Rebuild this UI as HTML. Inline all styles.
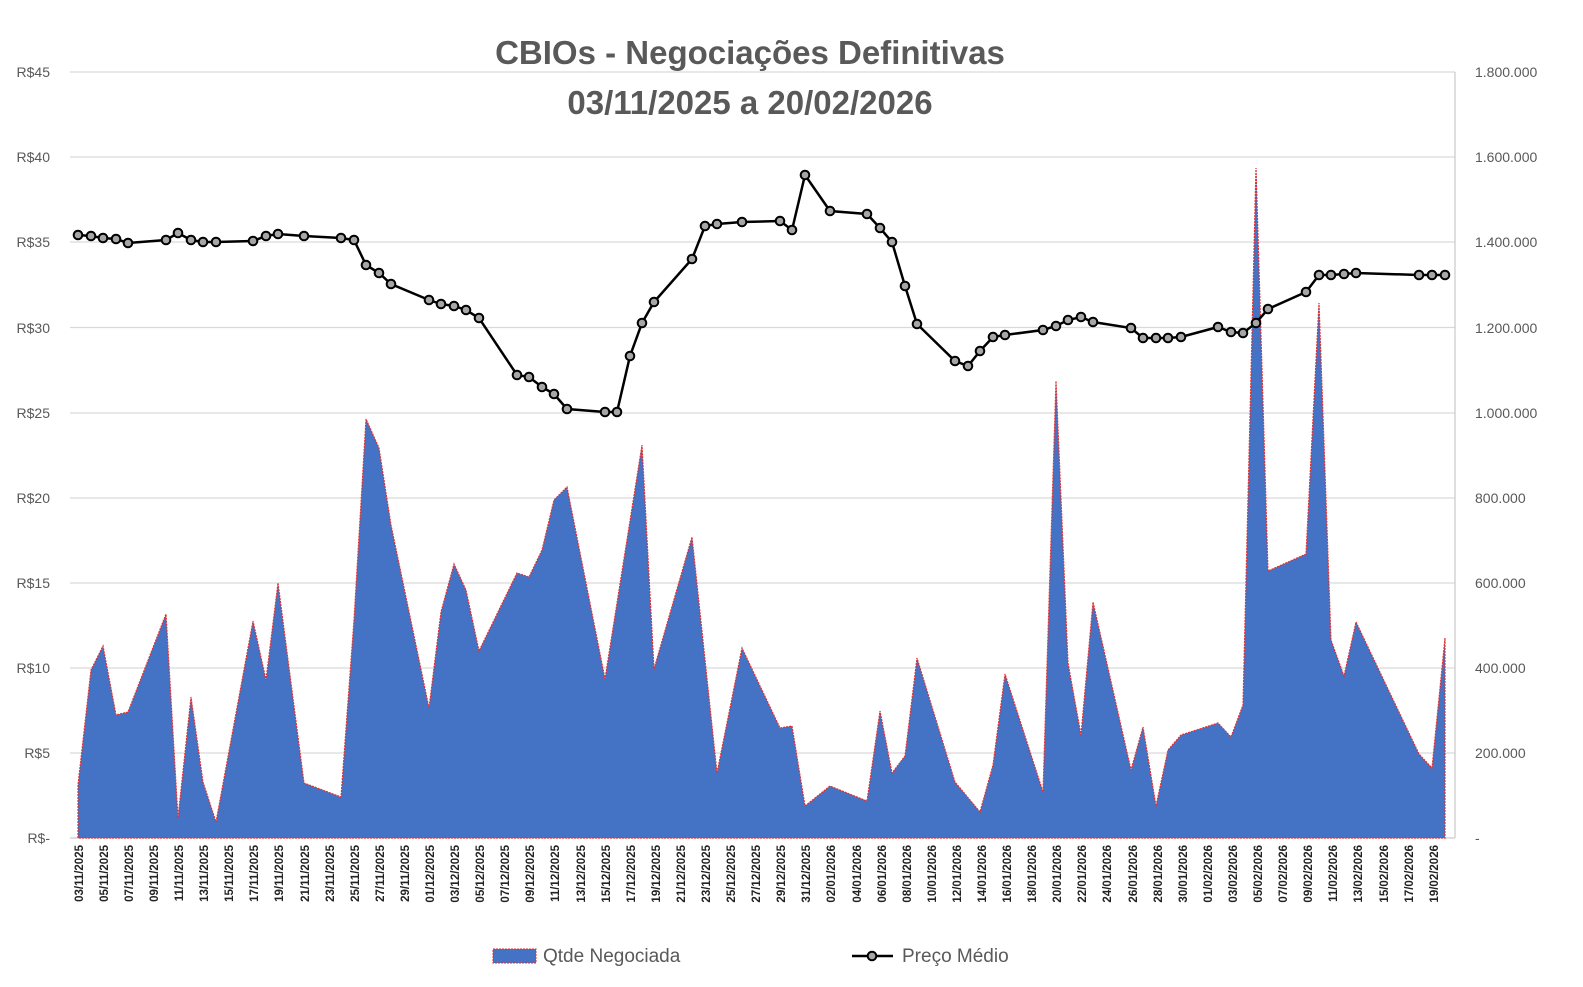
<!DOCTYPE html>
<html><head><meta charset="utf-8"><style>
body{margin:0;background:#fff}
svg{display:block;font-family:"Liberation Sans",Arial,sans-serif}
.xl{font-size:11.5px;font-weight:bold;fill:#222}
.ax{font-size:14px;fill:#595959}
</style></head><body>
<svg width="1583" height="987" viewBox="0 0 1583 987" xmlns="http://www.w3.org/2000/svg">
<rect width="1583" height="987" fill="#fff"/>
<g stroke="#d9d9d9" stroke-width="1.3">
<line x1="70" y1="72" x2="1455" y2="72"/><line x1="70" y1="157" x2="1455" y2="157"/>
<line x1="70" y1="242" x2="1455" y2="242"/><line x1="70" y1="327.5" x2="1455" y2="327.5"/>
<line x1="70" y1="413" x2="1455" y2="413"/><line x1="70" y1="498" x2="1455" y2="498"/>
<line x1="70" y1="583" x2="1455" y2="583"/><line x1="70" y1="668" x2="1455" y2="668"/>
<line x1="70" y1="753" x2="1455" y2="753"/>
</g>
<line x1="1455" y1="72" x2="1455" y2="838" stroke="#bfbfbf"/>
<line x1="70" y1="838" x2="1455" y2="838" stroke="#bfbfbf"/>
<g class="ax" text-anchor="end">
<text x="50" y="77">R$45</text><text x="50" y="162">R$40</text><text x="50" y="247">R$35</text>
<text x="50" y="333">R$30</text><text x="50" y="418">R$25</text><text x="50" y="503">R$20</text>
<text x="50" y="588">R$15</text><text x="50" y="673">R$10</text><text x="50" y="758">R$5</text>
<text x="50" y="843">R$-</text>
</g>
<g class="ax">
<text x="1475" y="77">1.800.000</text><text x="1475" y="162">1.600.000</text><text x="1475" y="247">1.400.000</text>
<text x="1475" y="333">1.200.000</text><text x="1475" y="418">1.000.000</text><text x="1475" y="503">800.000</text>
<text x="1475" y="588">600.000</text><text x="1475" y="673">400.000</text><text x="1475" y="758">200.000</text>
<text x="1475" y="843">-</text>
</g>
<text x="750" y="64" text-anchor="middle" font-size="33" font-weight="bold" fill="#595959">CBIOs - Negociações Definitivas</text>
<text x="750" y="114" text-anchor="middle" font-size="33" font-weight="bold" fill="#595959">03/11/2025 a 20/02/2026</text>
<polygon fill="#4472c4" stroke="#e03030" stroke-width="1.2" stroke-dasharray="2,1" points="78,838 78,785 91,670 103,646 116,715 128,712 166,614 178,818 191,697 203,782 216,822 253,621 266,680 278,583 304,783 341,797 354,620 366,419 379,448 391,525 429,708 441,612 454,564 466,590 479,651 517,573 529,577 542,550 554,500 567,487 605,679 642,445 654,669 692,537 717,773 742,648 780,728 792,726 805,806 830,786 867,801 880,711 892,773 905,756 917,658 955,782 980,812 993,765 1005,674 1043,792 1056,381 1068,663 1081,735 1093,602 1131,770 1143,727 1156,806 1168,750 1181,735 1218,723 1231,737 1243,705 1256,168 1268,571 1306,554 1319,303 1331,640 1344,676 1356,622 1419,754 1432,768 1445,638 1445,838"/>
<g id="pl">
<polyline fill="none" stroke="#000" stroke-width="2.5" points="78,235 91,236 103,238 116,239 128,243 166,240 178,233 191,240 203,242 216,242 253,241 266,236 278,234 304,236 341,238 354,240 366,265 379,273 391,284 429,300 441,304 454,306 466,310 479,318 517,375 529,377 542,387 554,394 567,409 605,412 617,412 630,356 642,323 654,302 692,259 705,226 717,224 742,222 780,221 792,230 805,175 830,211 867,214 880,228 892,242 905,286 917,324 955,361 968,366 980,351 993,337 1005,335 1043,330 1056,326 1068,320 1081,317 1093,322 1131,328 1143,338 1156,338 1168,338 1181,337 1218,327 1231,332 1243,333 1256,323 1268,309 1306,292 1319,275 1331,275 1344,274 1356,273 1419,275 1432,275 1445,275"/>
<g fill="#a6a6a6" stroke="#000" stroke-width="2">
<circle cx="78" cy="235" r="4.3"/><circle cx="91" cy="236" r="4.3"/><circle cx="103" cy="238" r="4.3"/><circle cx="116" cy="239" r="4.3"/><circle cx="128" cy="243" r="4.3"/><circle cx="166" cy="240" r="4.3"/><circle cx="178" cy="233" r="4.3"/><circle cx="191" cy="240" r="4.3"/><circle cx="203" cy="242" r="4.3"/><circle cx="216" cy="242" r="4.3"/><circle cx="253" cy="241" r="4.3"/><circle cx="266" cy="236" r="4.3"/><circle cx="278" cy="234" r="4.3"/><circle cx="304" cy="236" r="4.3"/><circle cx="341" cy="238" r="4.3"/><circle cx="354" cy="240" r="4.3"/><circle cx="366" cy="265" r="4.3"/><circle cx="379" cy="273" r="4.3"/><circle cx="391" cy="284" r="4.3"/><circle cx="429" cy="300" r="4.3"/><circle cx="441" cy="304" r="4.3"/><circle cx="454" cy="306" r="4.3"/><circle cx="466" cy="310" r="4.3"/><circle cx="479" cy="318" r="4.3"/><circle cx="517" cy="375" r="4.3"/><circle cx="529" cy="377" r="4.3"/><circle cx="542" cy="387" r="4.3"/><circle cx="554" cy="394" r="4.3"/><circle cx="567" cy="409" r="4.3"/><circle cx="605" cy="412" r="4.3"/><circle cx="617" cy="412" r="4.3"/><circle cx="630" cy="356" r="4.3"/><circle cx="642" cy="323" r="4.3"/><circle cx="654" cy="302" r="4.3"/><circle cx="692" cy="259" r="4.3"/><circle cx="705" cy="226" r="4.3"/><circle cx="717" cy="224" r="4.3"/><circle cx="742" cy="222" r="4.3"/><circle cx="780" cy="221" r="4.3"/><circle cx="792" cy="230" r="4.3"/><circle cx="805" cy="175" r="4.3"/><circle cx="830" cy="211" r="4.3"/><circle cx="867" cy="214" r="4.3"/><circle cx="880" cy="228" r="4.3"/><circle cx="892" cy="242" r="4.3"/><circle cx="905" cy="286" r="4.3"/><circle cx="917" cy="324" r="4.3"/><circle cx="955" cy="361" r="4.3"/><circle cx="968" cy="366" r="4.3"/><circle cx="980" cy="351" r="4.3"/><circle cx="993" cy="337" r="4.3"/><circle cx="1005" cy="335" r="4.3"/><circle cx="1043" cy="330" r="4.3"/><circle cx="1056" cy="326" r="4.3"/><circle cx="1068" cy="320" r="4.3"/><circle cx="1081" cy="317" r="4.3"/><circle cx="1093" cy="322" r="4.3"/><circle cx="1131" cy="328" r="4.3"/><circle cx="1143" cy="338" r="4.3"/><circle cx="1156" cy="338" r="4.3"/><circle cx="1168" cy="338" r="4.3"/><circle cx="1181" cy="337" r="4.3"/><circle cx="1218" cy="327" r="4.3"/><circle cx="1231" cy="332" r="4.3"/><circle cx="1243" cy="333" r="4.3"/><circle cx="1256" cy="323" r="4.3"/><circle cx="1268" cy="309" r="4.3"/><circle cx="1306" cy="292" r="4.3"/><circle cx="1319" cy="275" r="4.3"/><circle cx="1331" cy="275" r="4.3"/><circle cx="1344" cy="274" r="4.3"/><circle cx="1356" cy="273" r="4.3"/><circle cx="1419" cy="275" r="4.3"/><circle cx="1432" cy="275" r="4.3"/><circle cx="1445" cy="275" r="4.3"/>
</g></g>
<g class="xl" text-anchor="end">
<text transform="translate(83,845) rotate(-90)">03/11/2025</text>
<text transform="translate(108,845) rotate(-90)">05/11/2025</text>
<text transform="translate(133,845) rotate(-90)">07/11/2025</text>
<text transform="translate(158,845) rotate(-90)">09/11/2025</text>
<text transform="translate(183,845) rotate(-90)">11/11/2025</text>
<text transform="translate(208,845) rotate(-90)">13/11/2025</text>
<text transform="translate(233,845) rotate(-90)">15/11/2025</text>
<text transform="translate(258,845) rotate(-90)">17/11/2025</text>
<text transform="translate(283,845) rotate(-90)">19/11/2025</text>
<text transform="translate(309,845) rotate(-90)">21/11/2025</text>
<text transform="translate(334,845) rotate(-90)">23/11/2025</text>
<text transform="translate(359,845) rotate(-90)">25/11/2025</text>
<text transform="translate(384,845) rotate(-90)">27/11/2025</text>
<text transform="translate(409,845) rotate(-90)">29/11/2025</text>
<text transform="translate(434,845) rotate(-90)">01/12/2025</text>
<text transform="translate(459,845) rotate(-90)">03/12/2025</text>
<text transform="translate(484,845) rotate(-90)">05/12/2025</text>
<text transform="translate(509,845) rotate(-90)">07/12/2025</text>
<text transform="translate(534,845) rotate(-90)">09/12/2025</text>
<text transform="translate(559,845) rotate(-90)">11/12/2025</text>
<text transform="translate(585,845) rotate(-90)">13/12/2025</text>
<text transform="translate(610,845) rotate(-90)">15/12/2025</text>
<text transform="translate(635,845) rotate(-90)">17/12/2025</text>
<text transform="translate(660,845) rotate(-90)">19/12/2025</text>
<text transform="translate(685,845) rotate(-90)">21/12/2025</text>
<text transform="translate(710,845) rotate(-90)">23/12/2025</text>
<text transform="translate(735,845) rotate(-90)">25/12/2025</text>
<text transform="translate(760,845) rotate(-90)">27/12/2025</text>
<text transform="translate(785,845) rotate(-90)">29/12/2025</text>
<text transform="translate(810,845) rotate(-90)">31/12/2025</text>
<text transform="translate(835,845) rotate(-90)">02/01/2026</text>
<text transform="translate(861,845) rotate(-90)">04/01/2026</text>
<text transform="translate(886,845) rotate(-90)">06/01/2026</text>
<text transform="translate(911,845) rotate(-90)">08/01/2026</text>
<text transform="translate(936,845) rotate(-90)">10/01/2026</text>
<text transform="translate(961,845) rotate(-90)">12/01/2026</text>
<text transform="translate(986,845) rotate(-90)">14/01/2026</text>
<text transform="translate(1011,845) rotate(-90)">16/01/2026</text>
<text transform="translate(1036,845) rotate(-90)">18/01/2026</text>
<text transform="translate(1061,845) rotate(-90)">20/01/2026</text>
<text transform="translate(1086,845) rotate(-90)">22/01/2026</text>
<text transform="translate(1111,845) rotate(-90)">24/01/2026</text>
<text transform="translate(1137,845) rotate(-90)">26/01/2026</text>
<text transform="translate(1162,845) rotate(-90)">28/01/2026</text>
<text transform="translate(1187,845) rotate(-90)">30/01/2026</text>
<text transform="translate(1212,845) rotate(-90)">01/02/2026</text>
<text transform="translate(1237,845) rotate(-90)">03/02/2026</text>
<text transform="translate(1262,845) rotate(-90)">05/02/2026</text>
<text transform="translate(1287,845) rotate(-90)">07/02/2026</text>
<text transform="translate(1312,845) rotate(-90)">09/02/2026</text>
<text transform="translate(1337,845) rotate(-90)">11/02/2026</text>
<text transform="translate(1362,845) rotate(-90)">13/02/2026</text>
<text transform="translate(1388,845) rotate(-90)">15/02/2026</text>
<text transform="translate(1413,845) rotate(-90)">17/02/2026</text>
<text transform="translate(1438,845) rotate(-90)">19/02/2026</text>
</g>
<rect x="493" y="949" width="43" height="14" fill="#4472c4" stroke="#e03030" stroke-dasharray="2,1"/>
<text x="543" y="962" font-size="19" fill="#595959">Qtde Negociada</text>
<line x1="852" y1="956" x2="893" y2="956" stroke="#000" stroke-width="2.5"/>
<circle cx="872" cy="956" r="4.3" fill="#a6a6a6" stroke="#000" stroke-width="2"/>
<text x="902" y="962" font-size="19" fill="#595959">Preço Médio</text>
</svg>
</body></html>
